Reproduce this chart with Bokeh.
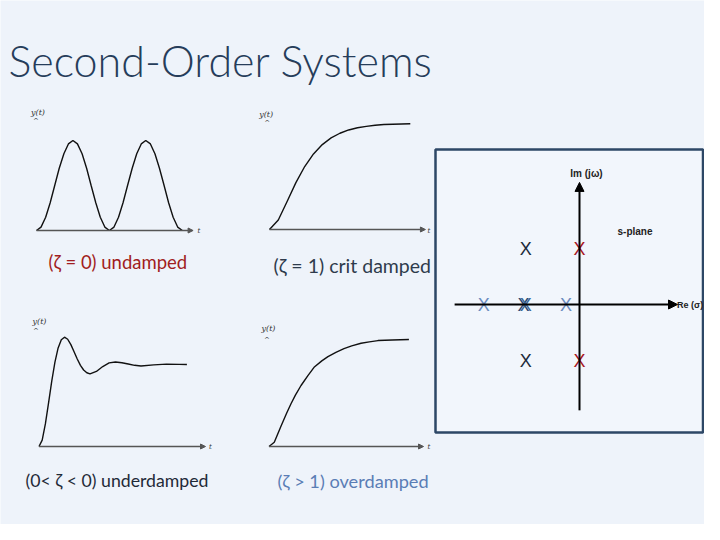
from bokeh.plotting import figure
from bokeh.models import Range1d, Arrow, NormalHead, ColumnDataSource
from bokeh.core.properties import value
from bokeh.embed import file_html
from bokeh.resources import INLINE

# ---------------- data ----------------
undamped_t = [0, 0.39, 0.79, 1.18, 1.57, 1.96, 2.36, 2.75, 3.14, 3.53, 3.93, 4.32, 4.71, 5.11, 5.50, 5.89,
              6.28, 6.68, 7.07, 7.46, 7.85, 8.25, 8.64, 9.03, 9.42, 9.82, 10.21, 10.60, 11.00, 11.39, 11.78,
              12.17, 12.57]
undamped_y = [0, 0.076, 0.293, 0.617, 1.0, 1.383, 1.707, 1.924, 2.0, 1.924, 1.707, 1.383, 1.0, 0.617, 0.293, 0.076,
              0, 0.076, 0.293, 0.617, 1.0, 1.383, 1.707, 1.924, 2.0, 1.924, 1.707, 1.383, 1.0, 0.617, 0.293,
              0.076, 0]

crit_t = [0, 0.5, 1, 1.5, 2, 2.5, 3, 3.5, 4, 4.5, 5, 5.5, 6, 6.5, 7, 7.5, 8]
crit_y = [0, 0.09, 0.264, 0.442, 0.594, 0.713, 0.801, 0.864, 0.908, 0.939, 0.96, 0.973, 0.983, 0.99, 0.993,
          0.995, 0.997]

under_t = [0, 0.125, 0.25, 0.375, 0.5, 0.625, 0.75, 0.875, 1.0, 1.125, 1.25, 1.375, 1.5, 1.625, 1.75, 1.875,
           2.0, 2.25, 2.5, 2.75, 3.0, 3.25, 3.5, 3.75, 4.0, 4.5, 5.0, 5.5, 5.8]
under_y = [0, 0.078, 0.275, 0.533, 0.798, 1.03, 1.202, 1.302, 1.333, 1.308, 1.242, 1.156, 1.067, 0.99, 0.933,
           0.899, 0.885, 0.915, 0.975, 1.02, 1.03, 1.022, 1.006, 0.99, 0.982, 0.995, 1.005, 1.002, 1.0]

over_t = [0, 0.3, 0.68, 1.0, 1.25, 1.5, 1.82, 2.2, 2.56, 3.0, 3.35, 3.8, 4.26, 4.7, 5.23, 5.7, 6.19, 7.0, 7.95]
over_y = [0, 0.04, 0.19, 0.31, 0.40, 0.48, 0.57, 0.66, 0.74, 0.80, 0.84, 0.88, 0.915, 0.94, 0.965, 0.978,
          0.99, 0.996, 1.0]

# poles in the s-plane
poles_undamped_re = [0.0, 0.0]
poles_undamped_im = [1.0, -1.0]
poles_under_re = [-0.96, -0.96]
poles_under_im = [1.0, -1.0]
poles_crit_re = [-1.0, -0.96]
poles_crit_im = [0.0, 0.0]
poles_over_re = [-1.71, -0.24]
poles_over_im = [0.0, 0.0]

captions = ["(ζ = 0) undamped", "(ζ = 1) crit damped", "(0< ζ < 0) underdamped", "(ζ > 1) overdamped"]
title_text = "Second-Order Systems"

# ---------------- figure (coordinates = slide pixels) ----------------
BG = "#eef3fa"
W, H = 704, 524
p = figure(width=W, height=H, x_range=Range1d(0, W), y_range=Range1d(H, 0),
           x_axis_location=None, y_axis_location=None, toolbar_location=None,
           min_border=0, output_backend="svg", background_fill_color=BG,
           border_fill_color=BG, outline_line_color=None)
p.xgrid.visible = False
p.ygrid.visible = False

# panel placement: origin (px), px per t unit, px per y unit
panels = {
    "u": (36.0, 230.0, 11.6, 45.0),
    "c": (269.0, 229.0, 17.6, 106.0),
    "d": (38.5, 446.0, 25.5, 82.0),
    "o": (268.5, 446.0, 17.6, 107.0),
    "s": (579.0, 304.0, 56.0, 56.0),
}
xr, yr = {}, {}
for k, (x0, y0, sx, sy) in panels.items():
    xr[k] = Range1d((0 - x0) / sx, (W - x0) / sx)
    yr[k] = Range1d((y0 - H) / sy, (y0 - 0) / sy)
p.extra_x_ranges = xr
p.extra_y_ranges = yr

# s-plane box
p.quad(left=435, right=702.5, top=149, bottom=432, fill_color="#f2f6fc",
       line_color="#2d4766", line_width=2.5)

# time-response panels
curves = {"u": (undamped_t, undamped_y, 13.5), "c": (crit_t, crit_y, 8.86),
          "d": (under_t, under_y, 6.53), "o": (over_t, over_y, 8.78)}
for k, (t, y, tend) in curves.items():
    p.add_layout(Arrow(end=NormalHead(size=5, fill_color="#555555", line_color="#555555"),
                       x_start=0, y_start=0, x_end=tend, y_end=0, line_color="#555555",
                       line_width=1.6, x_range_name=k, y_range_name=k))
    p.line(t, y, x_range_name=k, y_range_name=k, line_color="#111111", line_width=1.4)

# small axis labels
small_font = value("DejaVu Serif")
p.text(x=[37.5, 265.7, 39, 268], y=[112, 114, 321, 328], text=["y(t)"] * 4,
       text_font=small_font, text_font_size="6pt", text_font_style="italic",
       text_align="center", text_baseline="middle", text_color="#333333")
p.text(x=[35.5, 266.7, 35.5, 266.5], y=[120, 122, 330, 339], text=["^"] * 4,
       text_font=value("DejaVu Sans"), text_font_size="7px", text_align="center",
       text_baseline="middle", text_color="#333333")
p.text(x=[198.5, 428.5, 210, 428.5], y=[230, 230, 446.5, 446.5], text=["t"] * 4,
       text_font=small_font, text_font_size="7px", text_font_style="italic",
       text_align="center", text_baseline="middle", text_color="#333333")

# captions
cap_src = ColumnDataSource(dict(x=[48, 273, 25, 277], y=[261, 265, 480, 480], text=captions,
                                color=["#a11d21", "#2e3b4c", "#1f2a38", "#5a7db5"],
                                size=["18.5px", "19.5px", "17.7px", "18.2px"]))
p.text(x="x", y="y", text="text", source=cap_src, text_color="color", text_font=value("Lato"),
       text_font_size="size", text_align="left", text_baseline="middle")

# title
p.text(x=[8], y=[60], text=[title_text], text_font=value("Lato Light, Lato, sans-serif"),
       text_font_size="43px", text_color="#263d5a", text_align="left", text_baseline="middle")

# s-plane axes
p.add_layout(Arrow(end=NormalHead(size=9, fill_color="black", line_color="black"),
                   x_start=-2.23, y_start=0, x_end=1.75, y_end=0, line_color="black",
                   line_width=2, x_range_name="s", y_range_name="s"))
p.add_layout(Arrow(end=NormalHead(size=9, fill_color="black", line_color="black"),
                   x_start=0, y_start=-1.89, x_end=0, y_end=2.18, line_color="black",
                   line_width=2, x_range_name="s", y_range_name="s"))

lab_font = value("Liberation Sans")
p.text(x=[586, 634.5], y=[173, 231], text=["Im (jω)", "s-plane"],
       text_font=lab_font, text_font_size="10px", text_font_style="bold",
       text_align="center", text_baseline="middle", text_color="#222222")
p.text(x=[676.5], y=[304], text=["Re (σ)"], text_font=lab_font, text_font_size="9px",
       text_font_style="bold", text_align="left", text_baseline="middle", text_color="#222222")

pole_sets = [
    (poles_under_re, poles_under_im, "#1c2a3a"),
    (poles_undamped_re, poles_undamped_im, "#a8141e"),
    (poles_over_re, poles_over_im, "#6a8cbf"),
    (poles_crit_re[:1], poles_crit_im[:1], "#2a4a70"),
    (poles_crit_re[1:], poles_crit_im[1:], "#3c6596"),
]
for re_, im_, col in pole_sets:
    p.text(x=re_, y=im_, text=["X"] * len(re_), x_range_name="s", y_range_name="s",
           text_font=lab_font, text_font_size="18px", text_color=col,
           text_align="center", text_baseline="middle")

open("out.html", "w").write(file_html(p, INLINE))
